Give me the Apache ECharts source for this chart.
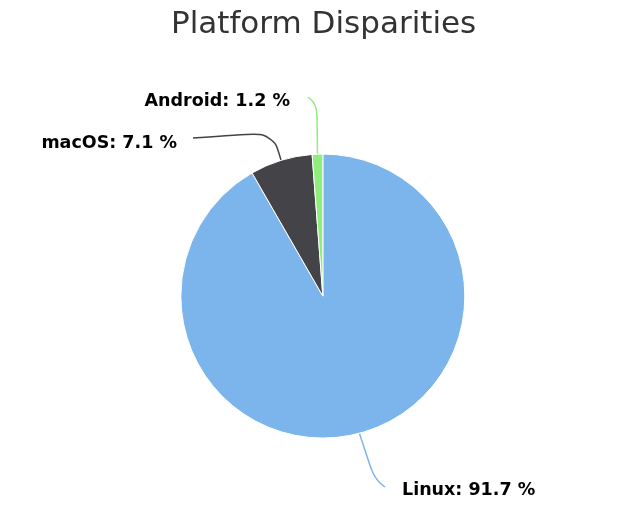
<!DOCTYPE html>
<html><head><meta charset="utf-8">
<script src="https://cdn.jsdelivr.net/npm/echarts@6/dist/echarts.min.js"></script>
<style>html,body{margin:0;padding:0;background:#fff}#c{width:633px;height:514px}</style>
</head><body><div id="c"></div>
<script>
const categories = ['Linux', 'macOS', 'Android'];
const values = [91.7, 7.1, 1.2];
const colors = ['#7cb5ec', '#434348', '#90ed7d'];
// label placement (text anchor, bend point, line end)
const labelPlace = [
  {x: 402, y: 490, align: 'left', bend: [374, 478], end: [385, 487]},
  {x: 177, y: 143, align: 'right', bend: [273, 132], end: [193, 138]},
  {x: 290, y: 101, align: 'right', bend: [317, 105], end: [308, 97]}
];
const chart = echarts.init(document.getElementById('c'), null, {renderer: 'canvas'});
chart.setOption({
  animation: false,
  title: {
    text: 'Platform Disparities', left: 166, top: 4,
    textStyle: {fontFamily: 'DejaVu Sans', fontSize: 31, fontWeight: 'normal', color: '#333333'}
  },
  series: [{
    type: 'pie',
    center: ['51%', '57.6%'],
    radius: 142,
    startAngle: 90,
    clockwise: true,
    itemStyle: {borderColor: '#ffffff', borderWidth: 1},
    label: {
      show: true,
      formatter: p => p.name + ': ' + p.value.toFixed(1) + ' %',
      fontFamily: 'DejaVu Sans', fontSize: 17.5, fontWeight: 'bold', color: '#000000'
    },
    labelLine: {show: true, length: 45, length2: 20, smooth: 0.4, lineStyle: {width: 1.5}},
    labelLayout: function (params) {
      const p = labelPlace[params.dataIndex];
      const pts = params.labelLinePoints;
      const start = pts ? pts[0] : p.bend;
      return {
        x: p.x, y: p.y, align: p.align, verticalAlign: 'middle',
        labelLinePoints: [start, p.bend, p.end]
      };
    },
    data: categories.map((c, i) => ({name: c, value: values[i], itemStyle: {color: colors[i]}, labelLine: {lineStyle: {color: colors[i]}}})),
    emphasis: {disabled: true}
  }]
});
</script></body></html>
